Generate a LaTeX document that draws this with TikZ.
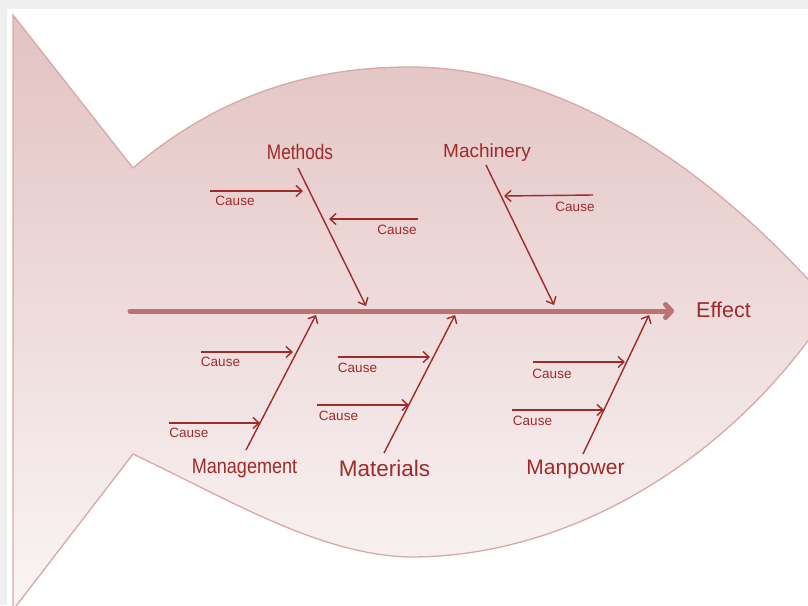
\documentclass[tikz,border=0pt]{standalone}
\usepackage{fontspec}
\setmainfont{Liberation Sans}
\usetikzlibrary{arrows.meta}
\definecolor{finfill}{RGB}{227,194,194}
\definecolor{finfade}{RGB}{250,245,245}
\definecolor{finline}{RGB}{214,168,168}
\definecolor{spinecol}{RGB}{188,114,114}
\definecolor{bonecol}{RGB}{158,42,42}
\definecolor{framegray}{RGB}{239,239,239}
\tikzset{
  bone/.style={draw=bonecol, line width=1.4pt, -{Straight Barb[length=6pt,width=11pt]}},
  causearrow/.style={draw=bonecol, line width=1.4pt, -{Straight Barb[length=6pt,width=11pt]}},
  causelbl/.style={text=bonecol, font=\fontsize{13.5}{14}\selectfont, inner sep=0pt},
  catlbl/.style={text=bonecol, inner sep=0pt},
  spine/.style={draw=spinecol, line width=5pt, line cap=round,
    -{Straight Barb[round,length=6pt,width=13pt]}},
}
\begin{document}
\begin{tikzpicture}[x=1pt,y=-1pt]
\useasboundingbox (0,0) rectangle (808,605);
\clip (0,0) rectangle (808,605);
% page frame
\fill[framegray] (0,0) rectangle (808,605);
\fill[white] (7,9) rectangle (808,605);
% fish body
\path[draw=finline, line width=1.3pt, top color=finfill, bottom color=finfade]
  (13,15) -- (133,168)
  .. controls (230,85) and (330,67) .. (410,67)
  .. controls (560,67) and (710,165) .. (832,306)
  .. controls (740,450) and (580,557) .. (410,557)
  .. controls (320,555) and (230,500) .. (133,454)
  -- (13,610) -- cycle;
% spine
\coordinate (tailend) at (130,311);
\coordinate (head) at (674,311);
\draw[spine] (tailend) -- (head);
\node[catlbl, font=\fontsize{21.5}{22}\selectfont, anchor=west] (effect) at (696,310) {Effect};

% category labels
\node[catlbl, font=\fontsize{21}{22}\selectfont] (methods) at (300,152) {\scalebox{0.82}[1]{Methods}};
\node[catlbl, font=\fontsize{19}{20}\selectfont] (machinery) at (487,153) {Machinery};
\node[catlbl, font=\fontsize{21}{22}\selectfont] (management) at (244.5,468) {\scalebox{0.86}[1]{Management}};
\node[catlbl, font=\fontsize{22.5}{23}\selectfont] (materials) at (384.5,468) {Materials};
\node[catlbl, font=\fontsize{21}{22}\selectfont] (manpower) at (575.5,469) {Manpower};

% bone end points
\coordinate (meA) at (298,168);  \coordinate (meB) at (366,306);
\coordinate (maA) at (486,165);  \coordinate (maB) at (554,305);
\coordinate (mgA) at (246,450);  \coordinate (mgB) at (316,315);
\coordinate (mtA) at (384,453);  \coordinate (mtB) at (455,315);
\coordinate (mpA) at (583,454);  \coordinate (mpB) at (649,315);
\draw[bone] (meA) -- (meB);
\draw[bone] (maA) -- (maB);
\draw[bone] (mgA) -- (mgB);
\draw[bone] (mtA) -- (mtB);
\draw[bone] (mpA) -- (mpB);

% cause arrows
\coordinate (c1s) at (210,191);  \coordinate (c1e) at (303,191);
\coordinate (c2s) at (418,219);  \coordinate (c2e) at (329,219);
\coordinate (c3s) at (593,195);  \coordinate (c3e) at (504,196);
\coordinate (c4s) at (201,352);  \coordinate (c4e) at (293,352);
\coordinate (c5s) at (169,423);  \coordinate (c5e) at (260,423);
\coordinate (c6s) at (338,357);  \coordinate (c6e) at (430,357);
\coordinate (c7s) at (317,405);  \coordinate (c7e) at (409,405);
\coordinate (c8s) at (533,362);  \coordinate (c8e) at (625,362);
\coordinate (c9s) at (512,410);  \coordinate (c9e) at (604,410);
\foreach \i in {1,...,9} {\draw[causearrow] (c\i s) -- (c\i e);}

% cause labels
\node[causelbl] (l1) at (235,200.5) {Cause};
\node[causelbl] (l2) at (397,230) {Cause};
\node[causelbl] (l3) at (575,207) {Cause};
\node[causelbl] (l4) at (220.5,362) {Cause};
\node[causelbl] (l5) at (189,433) {Cause};
\node[causelbl] (l6) at (357.5,367.5) {Cause};
\node[causelbl] (l7) at (338.5,416) {Cause};
\node[causelbl] (l8) at (552,373.5) {Cause};
\node[causelbl] (l9) at (532.5,420.5) {Cause};
\end{tikzpicture}
\end{document}
